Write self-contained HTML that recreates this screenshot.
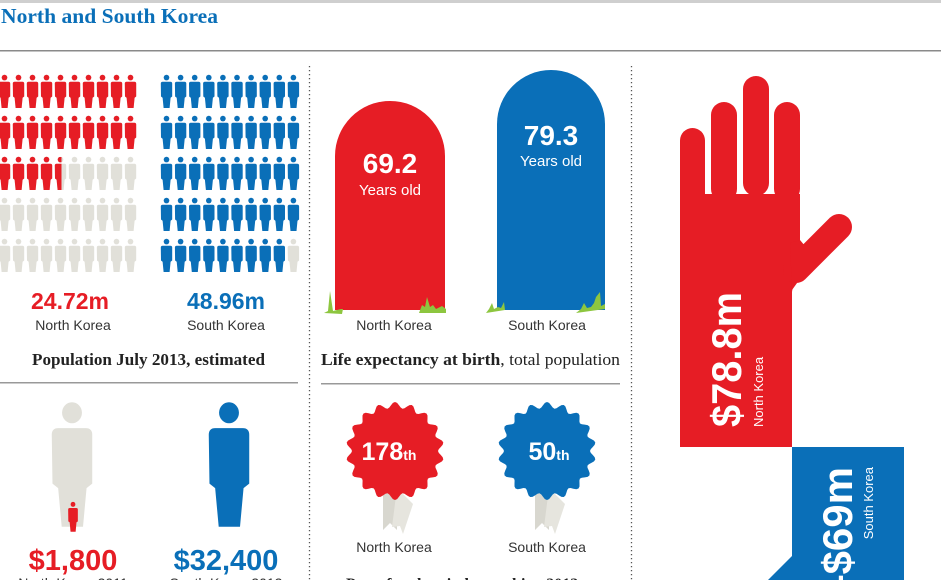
<!DOCTYPE html>
<html><head><meta charset="utf-8"><style>
html,body{margin:0;padding:0;background:#fff;width:941px;height:580px;overflow:hidden}
svg{display:block}
.s{font-family:"Liberation Sans",sans-serif}
.sf{font-family:"Liberation Serif",serif}
</style></head><body>
<svg id="g" width="941" height="580" viewBox="0 0 941 580" xmlns="http://www.w3.org/2000/svg">
<defs>
<g id="p"><circle cx="0" cy="2.6" r="2.8"/><path d="M-5.7,8.5 q0,-1.8 1.8,-1.8 h7.8 q1.8,0 1.8,1.8 v13 l-1.6,1.2 -1,10.3 h-6 l-1,-10.3 -1.6,-1.2 z"/></g>
<clipPath id="half"><rect x="-6" y="0" width="7" height="40"/></clipPath>
</defs>
<rect x="0" y="0" width="941" height="3" fill="#cfcfcf"/>
<text x="1" y="23" class="sf" font-weight="bold" font-size="21" fill="#0a6fb8" textLength="217" lengthAdjust="spacingAndGlyphs">North and South Korea</text>
<rect x="0" y="50" width="941" height="1.5" fill="#8a8a8a"/>
<line x1="309.5" y1="66" x2="309.5" y2="580" stroke="#555" stroke-width="1.3" stroke-dasharray="1.3 2.7"/>
<line x1="631.5" y1="66" x2="631.5" y2="580" stroke="#555" stroke-width="1.3" stroke-dasharray="1.3 2.7"/>
<g id="people"></g>
<text x="70" y="309" text-anchor="middle" class="s" font-weight="bold" font-size="23" fill="#e61d25">24.72m</text>
<text x="73" y="330" text-anchor="middle" class="s" font-size="14" fill="#333">North Korea</text>
<text x="226" y="309" text-anchor="middle" class="s" font-weight="bold" font-size="23" fill="#0a6fb8">48.96m</text>
<text x="226" y="330" text-anchor="middle" class="s" font-size="14" fill="#333">South Korea</text>
<text x="32" y="365" class="sf" font-weight="bold" font-size="17" fill="#222" textLength="233" lengthAdjust="spacingAndGlyphs">Population July 2013, estimated</text>
<rect x="0" y="382" width="298" height="1.5" fill="#999"/>
<use href="#p" transform="translate(72,403) scale(3.55,3.75)" fill="#e1e0d9"/>
<use href="#p" transform="translate(73,502) scale(0.85,0.9)" fill="#e61d25"/>
<use href="#p" transform="translate(229,403) scale(3.55,3.75)" fill="#0a6fb8"/>
<text x="73" y="570" text-anchor="middle" class="s" font-weight="bold" font-size="29" fill="#e61d25">$1,800</text>
<text x="226" y="570" text-anchor="middle" class="s" font-weight="bold" font-size="29" fill="#0a6fb8">$32,400</text>
<text x="73" y="588" text-anchor="middle" class="s" font-size="14" fill="#333">North Korea 2011</text>
<text x="226" y="588" text-anchor="middle" class="s" font-size="14" fill="#333">South Korea 2012</text>
<path d="M335,310 V156 A55,55 0 0 1 445,156 V310 Z" fill="#e61d25"/>
<path d="M497,310 V124 A54,54 0 0 1 605,124 V310 Z" fill="#0a6fb8"/>
<g fill="#8dc63f">
<path d="M324,313 l4,-2 l2,-20 l3,20 l8,-2 l2,0 l-1,5 z"/>
<path d="M419,313 l3,-8 l3,2 l2,-10 l3,10 l3,-2 l3,4 l6,-3 l4,3 l0,4 z"/>
<path d="M486,313 l3,-4 l3,-6 l2,6 l4,-2 l3,1 l3,-6 l1,8 z"/>
<path d="M576,313 l5,-4 l3,-6 l3,5 l4,-1 l3,-4 l2,-6 l4,-5 l1,14 l4,-2 l0,5 z"/>
</g>
<text x="390" y="173" text-anchor="middle" class="s" font-weight="bold" font-size="28" fill="#fff">69.2</text>
<text x="390" y="195" text-anchor="middle" class="s" font-size="15" fill="#fff">Years old</text>
<text x="551" y="145" text-anchor="middle" class="s" font-weight="bold" font-size="28" fill="#fff">79.3</text>
<text x="551" y="166" text-anchor="middle" class="s" font-size="15" fill="#fff">Years old</text>
<text x="394" y="330" text-anchor="middle" class="s" font-size="14" fill="#333">North Korea</text>
<text x="547" y="330" text-anchor="middle" class="s" font-size="14" fill="#333">South Korea</text>
<text x="321" y="365" class="sf" font-size="17" fill="#222" textLength="299" lengthAdjust="spacingAndGlyphs"><tspan font-weight="bold">Life expectancy at birth</tspan>, total population</text>
<rect x="321" y="383" width="299" height="1.5" fill="#999"/>
<g fill="#d8d7cf">
<path d="M383,488 h14 v42 l-7,-7 l-7,7 z"/><path d="M397,488 l16,16 l-10,30 l-3,-8 l-8,1 z" fill="#e6e5de"/>
<path d="M535,488 h14 v42 l-7,-7 l-7,7 z"/><path d="M549,488 l16,16 l-10,30 l-3,-8 l-8,1 z" fill="#e6e5de"/>
</g>
<polygon id="st1" fill="#e61d25"/>
<polygon id="st2" fill="#0a6fb8"/>
<text x="389" y="460" text-anchor="middle" class="s" font-weight="bold" font-size="25" fill="#fff">178<tspan font-size="14">th</tspan></text>
<text x="549" y="460" text-anchor="middle" class="s" font-weight="bold" font-size="25" fill="#fff">50<tspan font-size="14">th</tspan></text>
<text x="394" y="552" text-anchor="middle" class="s" font-size="14" fill="#333">North Korea</text>
<text x="547" y="552" text-anchor="middle" class="s" font-size="14" fill="#333">South Korea</text>
<text x="346" y="589" class="sf" font-weight="bold" font-size="16" fill="#222">Press freedom index ranking 2013</text>
<g fill="#e61d25">
<rect x="680" y="128" width="25" height="80" rx="12.5"/>
<rect x="711" y="102" width="26" height="100" rx="13"/>
<rect x="743" y="76" width="26" height="120" rx="13"/>
<rect x="774" y="102" width="26" height="100" rx="13"/>
<rect x="680" y="194" width="120" height="60"/>
<path d="M680,240 H799 V245 L792,292 V447 H680 Z"/>
<line x1="796" y1="270" x2="839" y2="227" stroke="#e61d25" stroke-width="26" stroke-linecap="round"/>
<path d="M790,243 L800,240 L815,258 L792,290 Z"/>
</g>
<rect x="705" y="180" width="6" height="14" fill="#fff"/>
<rect x="737" y="180" width="6" height="14" fill="#fff"/>
<rect x="769" y="180" width="5" height="14" fill="#fff"/>
<rect x="792" y="447" width="112" height="133" fill="#0a6fb8"/>
<polygon points="792,556 768,580 792,580" fill="#0a6fb8"/>
<text transform="translate(741,427) rotate(-90)" class="s" font-weight="bold" font-size="42" fill="#fff" textLength="135" lengthAdjust="spacingAndGlyphs">$78.8m</text>
<text transform="translate(763,427) rotate(-90)" class="s" font-size="13" fill="#fff">North Korea</text>
<text transform="translate(852,467) rotate(-90)" text-anchor="end" class="s" font-weight="bold" font-size="42" fill="#fff">–$69m</text>
<text transform="translate(873,467) rotate(-90)" text-anchor="end" class="s" font-size="13" fill="#fff">South Korea</text>
</svg>
<script>
(function(){
var ns="http://www.w3.org/2000/svg",g=document.getElementById("people");
function u(x,y,c,clip){var e=document.createElementNS(ns,"use");e.setAttribute("href","#p");e.setAttribute("transform","translate("+x+","+y+")");e.setAttribute("fill",c);if(clip)e.setAttribute("clip-path","url(#half)");g.appendChild(e);}
for(var r=0;r<5;r++)for(var c=0;c<10;c++){
 var x=4.5+14*c,y=75+41*r,i=r*10+c;
 u(x,y,"#e1e0d9");
 if(i<24)u(x,y,"#e61d25"); else if(i==24)u(x,y,"#e61d25",true);
 var bx=166.5+14.1*c;
 u(bx,y,(i<49)?"#0a6fb8":"#e1e0d9");
}
function star(id,cx,cy,R,r,n){var p=[];var N=8*n;for(var k=0;k<N;k++){var a=2*Math.PI*k/N;var rr=r+(R-r)*(0.5+0.5*Math.cos(a*n));p.push((cx+rr*Math.sin(a)).toFixed(1)+","+(cy-rr*Math.cos(a)).toFixed(1));}document.getElementById(id).setAttribute("points",p.join(" "));}
star("st1",395,451,49,43,18);star("st2",547,451,49,43,18);
})();
</script>
</body></html>
